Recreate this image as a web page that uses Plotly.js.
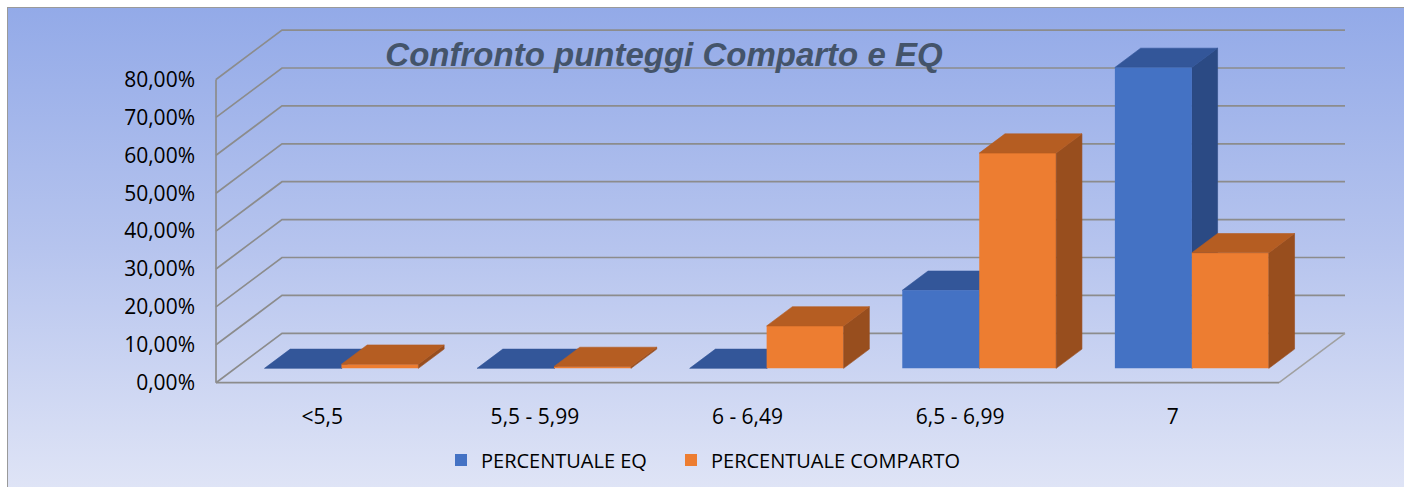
<!DOCTYPE html>
<html>
<head>
<meta charset="utf-8">
<script src="https://cdn.plot.ly/plotly-3.0.1.min.js"></script>
<style>
html,body{margin:0;padding:0;background:#ffffff;width:1405px;height:487px;overflow:hidden;}
#bg{position:absolute;left:7px;top:7px;width:1396px;height:480px;border-top:1.5px solid #9a9a9a;border-left:1.5px solid #9a9a9a;
background:linear-gradient(to bottom,#93aae8 0%,#b6c4ee 50%,#dfe4f6 100%);}
#chart{position:absolute;left:0;top:0;width:1405px;height:487px;}
</style>
</head>
<body>
<div id="bg"></div>
<div id="chart"></div>
<script>
// ---- data ----
const categories = ['<5,5', '5,5 - 5,99', '6 - 6,49', '6,5 - 6,99', '7'];
const percentualeEQ = [0, 0, 0, 20.6, 79.4];
const percentualeComparto = [1.1, 0.5, 11.2, 56.8, 30.5];
const yTickValues = [0, 10, 20, 30, 40, 50, 60, 70, 80];
const yTickLabels = ['0,00%', '10,00%', '20,00%', '30,00%', '40,00%', '50,00%', '60,00%', '70,00%', '80,00%'];
const seriesNames = ['PERCENTUALE EQ', 'PERCENTUALE COMPARTO'];

// ---- 3D oblique projection settings ----
const W = 1405, H = 487;
const PX_PER_CAT = 212.6, X_ORIGIN = 216;   // front floor left
const PX_PER_UNIT = 3.79, Y_ORIGIN = 382.7; // front floor 0%
const DX = 66 / PX_PER_CAT;   // depth shift (category units)
const DY = 49.4 / PX_PER_UNIT; // depth shift (value units)
const D0 = 0.29, D1 = 0.68;   // bar depth span
const BW = 0.362;             // bar width (category units)
const N = categories.length;

const xr = [-X_ORIGIN / PX_PER_CAT, (W - X_ORIGIN) / PX_PER_CAT];
const yr = [-(H - Y_ORIGIN) / PX_PER_UNIT, Y_ORIGIN / PX_PER_UNIT];

function proj(x, v, d) { return [x + d * DX, v + d * DY]; }

const traces = [];
// gridlines (walls & floor)
const gx = [], gy = [];
yTickValues.forEach(v => {
  const p1 = proj(0, v, 0), p2 = proj(0, v, 1), p3 = proj(N, v, 1);
  gx.push(p1[0], p2[0], p3[0], null); gy.push(p1[1], p2[1], p3[1], null);
});
{
  const a = proj(0, 0, 0), b = proj(0, yTickValues[yTickValues.length - 1], 0);
  gx.push(a[0], b[0], null); gy.push(a[1], b[1], null);
  const c = proj(N, 0, 0);
  gx.push(a[0], c[0], null); gy.push(a[1], c[1], null);
}
traces.push({x: gx, y: gy, mode: 'lines', line: {color: '#8c8c8c', width: 1.7}, hoverinfo: 'skip', showlegend: false, xaxis: 'x', yaxis: 'y'});
{
  const c = proj(N, 0, 0), e = proj(N, 0, 1);
  traces.push({x: [c[0], e[0]], y: [c[1], e[1]], mode: 'lines', line: {color: '#a0a0a0', width: 1.5}, hoverinfo: 'skip', showlegend: false, xaxis: 'x', yaxis: 'y'});
}

function faces(vals, s) {
  const side = {x: [], y: []}, top = {x: [], y: []};
  vals.forEach((v, i) => {
    const a = i + 0.5 - BW + s * BW, b = a + BW;
    [[b, 0, D0], [b, v, D0], [b, v, D1], [b, 0, D1], [b, 0, D0]].forEach(p => { const q = proj(...p); side.x.push(q[0]); side.y.push(q[1]); });
    side.x.push(null); side.y.push(null);
    [[a, v, D0], [b, v, D0], [b, v, D1], [a, v, D1], [a, v, D0]].forEach(p => { const q = proj(...p); top.x.push(q[0]); top.y.push(q[1]); });
    top.x.push(null); top.y.push(null);
  });
  return {side, top};
}
function polyTrace(pts, color, ax) {
  return {x: pts.x, y: pts.y, mode: 'lines', fill: 'toself', fillcolor: color, line: {color: color, width: 0.6}, hoverinfo: 'skip', showlegend: false, xaxis: ax[0], yaxis: ax[1]};
}
const fb = faces(percentualeEQ, 0), fo = faces(percentualeComparto, 1);
traces.push(polyTrace(fb.side, '#2b4a84', ['x', 'y']));
traces.push(polyTrace(fb.top, '#335699', ['x', 'y']));

// front faces as bars (overlay subplot)
function barX(s) { return categories.map((c, i) => i + 0.5 - BW + s * BW + BW / 2 + D0 * DX); }
traces.push({type: 'bar', name: seriesNames[0], x: barX(0), y: percentualeEQ, base: percentualeEQ.map(() => D0 * DY), width: BW,
  marker: {color: '#4472c4', line: {width: 0}}, xaxis: 'x2', yaxis: 'y2', hoverinfo: 'skip', legend: 'legend'});
traces.push({type: 'bar', name: seriesNames[1], x: barX(1), y: percentualeComparto, base: percentualeComparto.map(() => D0 * DY), width: BW,
  marker: {color: '#ed7d31', line: {width: 0}}, xaxis: 'x2', yaxis: 'y2', hoverinfo: 'skip', legend: 'legend2'});
traces.push(polyTrace(fo.side, '#984e1e', ['x2', 'y2']));
traces.push(polyTrace(fo.top, '#b55d22', ['x2', 'y2']));

const tickFont = {family: 'Open Sans', size: 21, color: '#000000'};
const legendFont = {family: 'Open Sans', size: 20, color: '#000000'};
const layout = {
  width: W, height: H,
  margin: {l: 0, r: 0, t: 0, b: 0, pad: 0},
  paper_bgcolor: 'rgba(0,0,0,0)', plot_bgcolor: 'rgba(0,0,0,0)',
  barmode: 'overlay',
  title: {text: '<b><i>Confronto punteggi Comparto e EQ</i></b>', font: {family: 'Liberation Sans', size: 33, color: '#44546a'},
    x: 664 / W, xanchor: 'center', xref: 'paper', y: 1 - 54 / H, yanchor: 'middle', yref: 'container'},
  xaxis: {range: xr, anchor: 'free', position: 1 - Y_ORIGIN / H, showgrid: false, zeroline: false, showline: false,
    tickmode: 'array', tickvals: categories.map((c, i) => i + 0.5), ticktext: categories, ticks: '', ticklabelstandoff: 19,
    tickfont: tickFont, fixedrange: true},
  yaxis: {range: yr, anchor: 'free', position: X_ORIGIN / W, showgrid: false, zeroline: false, showline: false,
    tickmode: 'array', tickvals: yTickValues, ticktext: yTickLabels, ticks: '', ticklabelstandoff: 21,
    tickfont: tickFont, fixedrange: true},
  xaxis2: {range: xr, overlaying: 'x', anchor: 'y2', visible: false, fixedrange: true},
  yaxis2: {range: yr, overlaying: 'y', anchor: 'x2', visible: false, fixedrange: true},
  showlegend: true,
  legend: {orientation: 'h', x: 441 / W, xanchor: 'left', y: 1 - 460 / H, yanchor: 'middle', bgcolor: 'rgba(0,0,0,0)', font: legendFont},
  legend2: {orientation: 'h', x: 671 / W, xanchor: 'left', y: 1 - 460 / H, yanchor: 'middle', bgcolor: 'rgba(0,0,0,0)', font: legendFont}
};
Plotly.newPlot('chart', traces, layout, {displayModeBar: false, staticPlot: true});
</script>
</body>
</html>
